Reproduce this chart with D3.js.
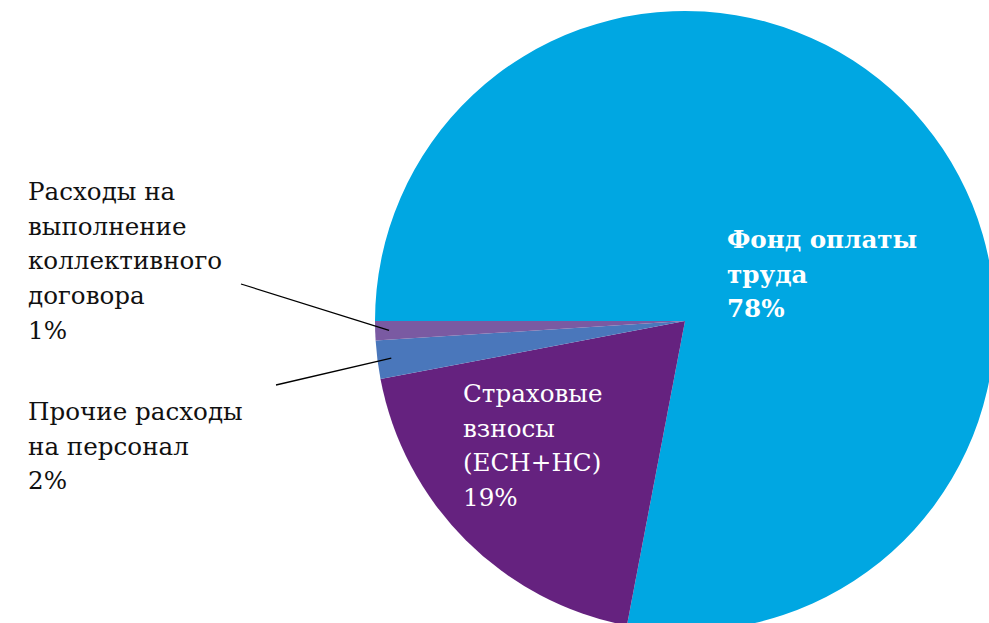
<!DOCTYPE html>
<html lang="ru">
<head>
<meta charset="utf-8">
<title>Структура расходов на персонал</title>
<script src="https://d3js.org/d3.v7.min.js"></script>
<style>
  html, body { margin: 0; padding: 0; background: #fff; }
  svg { display: block; }
  .lbl { font-family: "DejaVu Serif", serif; font-size: 24.6px; }
  .leader { stroke: #000; stroke-width: 1.3px; fill: none; }
</style>
</head>
<body>
<svg width="989" height="623"></svg>
<script>
// data
var categories = ["Фонд оплаты труда", "Страховые взносы (ЕСН+НС)", "Прочие расходы на персонал", "Расходы на выполнение коллективного договора"];
var values = [78, 19, 2, 1];
var colors = ["#00a7e2", "#65227f", "#4a77bb", "#7a5aa2"];
var labelLines = [
  ["Фонд оплаты", "труда"],
  ["Страховые", "взносы", "(ЕСН+НС)"],
  ["Прочие расходы", "на персонал"],
  ["Расходы на", "выполнение", "коллективного", "договора"]
];

var svg = d3.select("svg");
var cx = 685, cy = 321, R = 310;
var lineH = 34.7;

var pie = d3.pie().sort(null)
  .startAngle(-Math.PI / 2)
  .endAngle(Math.PI * 1.5)
  .value(function(d) { return d; });

var arcs = pie(values);
var arc = d3.arc().innerRadius(0).outerRadius(R);
var edgeArc = d3.arc().innerRadius(R * 0.955).outerRadius(R * 0.955);

var g = svg.append("g").attr("transform", "translate(" + cx + "," + cy + ")");

g.selectAll("path.slice")
  .data(arcs)
  .enter().append("path")
  .attr("class", "slice")
  .attr("d", arc)
  .attr("fill", function(d, i) { return colors[i]; });

// label placement (layout only)
var labelPos = [
  { x: 727, y: 248, inside: true, bold: true },
  { x: 463, y: 402, inside: true, bold: false },
  { x: 28, y: 420, inside: false, from: [276, 385] },
  { x: 28, y: 200, inside: false, from: [241, 284] }
];

arcs.forEach(function(a, i) {
  var p = labelPos[i];
  var lines = labelLines[i].concat([values[i] + "%"]);
  var t = svg.append("text")
    .attr("class", "lbl")
    .attr("x", p.x)
    .attr("y", p.y)
    .attr("fill", p.inside ? "#fff" : "#111")
    .attr("font-weight", p.bold ? "bold" : "normal");
  lines.forEach(function(s, k) {
    t.append("tspan").attr("x", p.x).attr("y", p.y + k * lineH).text(s);
  });
  if (!p.inside) {
    var c = edgeArc.centroid(a);
    svg.append("line")
      .attr("class", "leader")
      .attr("x1", p.from[0]).attr("y1", p.from[1])
      .attr("x2", cx + c[0]).attr("y2", cy + c[1]);
  }
});
</script>
</body>
</html>
